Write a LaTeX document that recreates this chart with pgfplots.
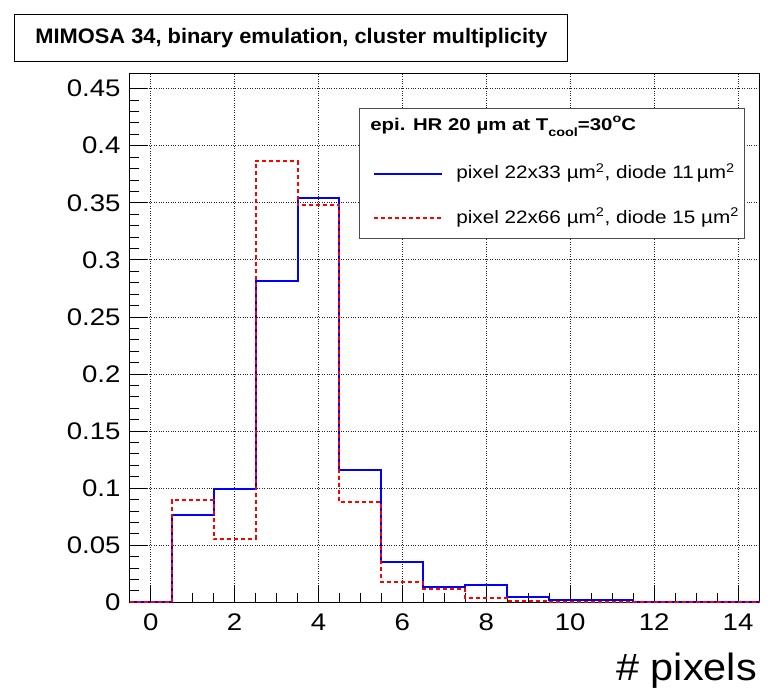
\documentclass[border=0pt]{standalone}
\usepackage{pgfplots}
\pgfplotsset{compat=1.18}
\usepackage{pgfplotstable}
\usepackage{fontspec}
\setmainfont{Liberation Sans}
\newfontfamily\tickfont[FakeStretch=1.15]{Liberation Sans}
\newfontfamily\labfont[FakeStretch=1.09]{Liberation Sans}
\newfontfamily\titfont[FakeStretch=1.04]{Liberation Sans}
\newfontfamily\legfont[FakeStretch=1.15]{Liberation Sans}
\newfontfamily\hdfont[FakeStretch=1.2]{Liberation Sans}

\pgfplotstableread{
x y
-0.5 0
0.5 0.0768
1.5 0.0989
2.5 0.2817
3.5 0.3540
4.5 0.1156
5.5 0.0356
6.5 0.0134
7.5 0.0152
8.5 0.0049
9.5 0.0023
10.5 0.0020
11.5 0.0003
12.5 0.0002
13.5 0.0001
14.5 0.0001
}\dataA

\pgfplotstableread{
x y
-0.5 0
0.5 0.0893
1.5 0.0555
2.5 0.3866
3.5 0.3480
4.5 0.0876
5.5 0.0180
6.5 0.0116
7.5 0.0035
8.5 0.0014
9.5 0.0005
10.5 0.0005
11.5 0.0002
12.5 0.0001
13.5 0.0000
14.5 0.0000
}\dataB

\begin{document}
\begin{tikzpicture}[x=1pt,y=1pt]
\useasboundingbox (0,0) rectangle (778,690);
\begin{axis}[
  at={(129.7pt,87.7pt)}, anchor=south west,
  scale only axis, width=629.3pt, height=529pt,
  xmin=-0.5, xmax=14.5, ymin=0, ymax=0.4634,
  xtick={0,2,4,6,8,10,12,14},
  ytick={0,0.05,0.1,0.15,0.2,0.25,0.3,0.35,0.4,0.45},
  scaled y ticks=false,
  /pgf/number format/assume math mode=true,
  /pgf/number format/fixed, /pgf/number format/precision=2,
  minor x tick num=3, minor y tick num=4,
  tick align=inside, tick pos=left,
  major tick length=17.5pt, minor tick length=9pt,
  every tick/.style={black, line width=0.8pt},
  grid=major, major grid style={black!85, dotted, line width=0.8pt},
  axis line style={line width=1pt},
  xticklabel style={font=\tickfont\fontsize{24}{24}\selectfont, inner sep=0pt, anchor=north, yshift=-11.7pt},
  yticklabel style={font=\tickfont\fontsize{24}{24}\selectfont, inner sep=0pt, anchor=east, xshift=-9pt},
  xlabel={\# pixels},
  xlabel style={at={(1,0)}, anchor=base east, yshift=-77.7pt, xshift=-2pt, inner sep=0pt, font=\labfont\fontsize{38}{38}\selectfont},
  every axis title shift=0pt,
  title={MIMOSA 34, binary emulation, cluster multiplicity},
  title style={at={(0.2571,1.0658)}, anchor=center, draw=black, line width=1pt, minimum width=553pt, minimum height=47pt, inner sep=0pt, font=\titfont\bfseries\fontsize{21}{21}\selectfont},
  legend style={at={(0.3644,0.9338)}, anchor=north west, draw=black!70, line width=1pt, fill=white,
    font=\legfont\fontsize{18}{18}\selectfont, row sep=26.7pt, column sep=13.3pt, inner xsep=13.5pt, inner ysep=11pt,
    nodes={inner sep=0pt, text height=14pt, text depth=4pt}},
  legend cell align=left,
  legend image code/.code={\draw[#1] (0pt,0pt) -- (68pt,0pt);},
  clip=false,
]
\addlegendimage{empty legend}
\addlegendentry{\hspace*{-86pt}\raisebox{3.5pt}{\hdfont\bfseries\fontsize{17}{17}\selectfont epi. HR 20 \textmu m at T\raisebox{-6pt}{\fontsize{12}{12}\selectfont cool}=30\raisebox{8pt}{\fontsize{12}{12}\selectfont o}C}}
\addplot[const plot mark left, blue, line width=2pt] table {\dataA};
\addlegendentry{pixel 22x33 \textmu m\textsuperscript{2}, diode 11\,\textmu m\textsuperscript{2}\hspace*{-8pt}}
\addplot[const plot mark left, red, line width=2pt, dash pattern=on 4pt off 3pt] table {\dataB};
\addlegendentry{pixel 22x66 \textmu m\textsuperscript{2}, diode 15 \textmu m\textsuperscript{2}\hspace*{-8pt}}
\end{axis}
\end{tikzpicture}
\end{document}
